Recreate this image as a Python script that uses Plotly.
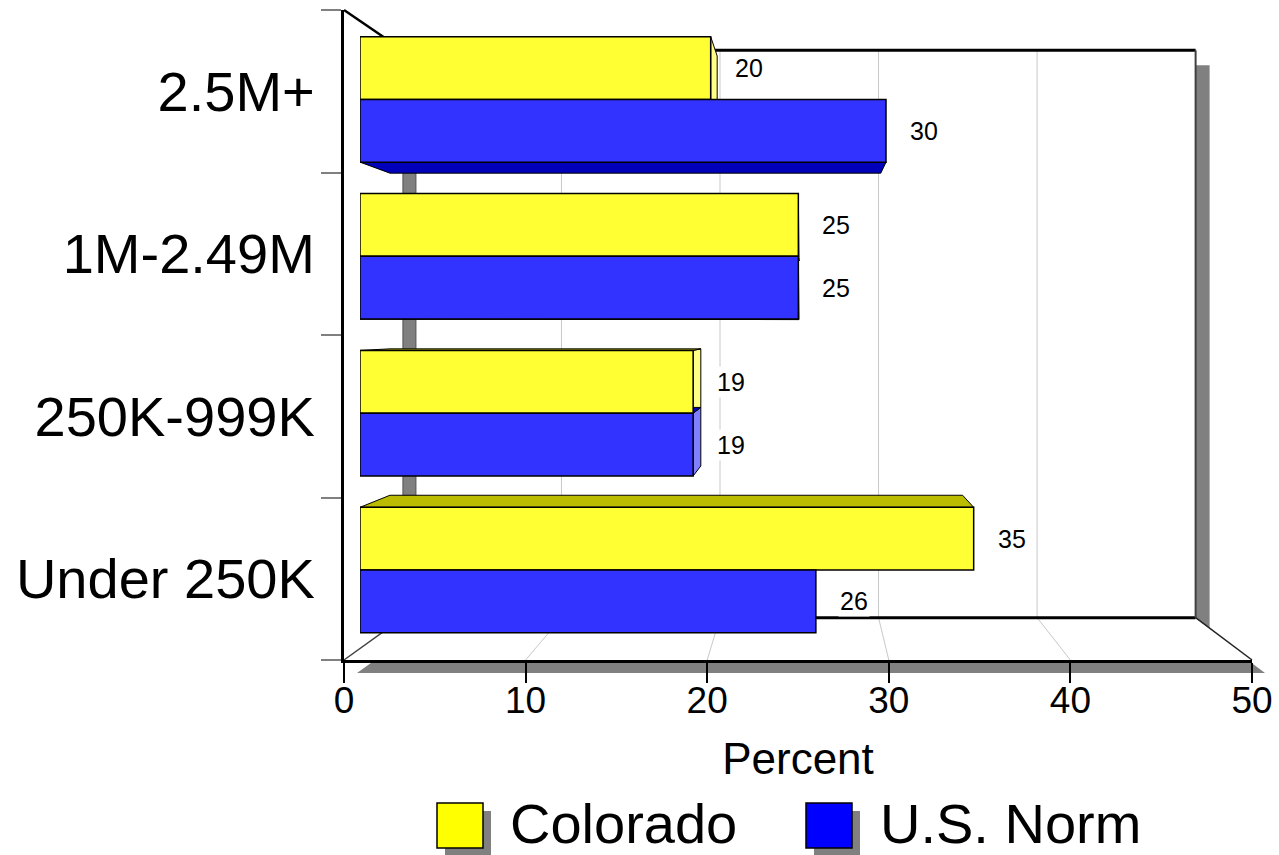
import plotly.graph_objects as go

# ---- data -------------------------------------------------------------
categories = ["Under 250K", "250K-999K", "1M-2.49M", "2.5M+"]   # bottom to top
colorado = [35, 19, 25, 20]
us_norm = [26, 19, 25, 30]
x_ticks = [0, 10, 20, 30, 40, 50]

# ---- geometry of the 3-D box (pixels) ---------------------------------
W, H = 1279, 855
FX0, FX1 = 344, 1252          # front edge: value 0 and value 50
FY_TOP, FY_BOT = 10, 660      # front edge of the category axis
XMAX = 50
NC = len(categories)
C_LO, C_HI = -0.5, NC - 0.5
SX = (FX1 - FX0) / XMAX
SY = (FY_BOT - FY_TOP) / (C_HI - C_LO)


def px_to_v(px):
    return (px - FX0) / SX


def py_to_c(py):
    return C_LO + (FY_BOT - py) / SY


VP_V, VP_C = px_to_v(808), py_to_c(327)   # vanishing point
K_WALL, K_BAR_F, K_BAR_B = 0.873, 0.9655, 0.901


def proj(v, c, k):
    """Point at depth k, expressed in front-plane coordinates."""
    return VP_V + (v - VP_V) * k, VP_C + (c - VP_C) * k


def paper_x(v):
    return (FX0 + v * SX) / W


def paper_y(c):
    return 1 - (FY_BOT - (c - C_LO) * SY) / H


FONT = "Liberation Sans, Arial, sans-serif"
GRAY = "#808080"
GRID = "#c8c8c8"

fig = go.Figure()


def poly(pts, fill, line="black", lw=1.0):
    xs = [p[0] for p in pts] + [pts[0][0]]
    ys = [p[1] for p in pts] + [pts[0][1]]
    fig.add_trace(go.Scatter(x=xs, y=ys, mode="lines", fill="toself",
                             fillcolor=fill, line=dict(color=line, width=lw),
                             xaxis="x", yaxis="y", hoverinfo="skip",
                             showlegend=False))


def seg(p, q, color, lw):
    fig.add_trace(go.Scatter(x=[p[0], q[0]], y=[p[1], q[1]], mode="lines",
                             line=dict(color=color, width=lw),
                             xaxis="x", yaxis="y", hoverinfo="skip",
                             showlegend=False))


def shifted(pts, dxp, dyp):
    return [(x + dxp / SX, y - dyp / SY) for x, y in pts]


# box corners
wall = [proj(0, C_LO, K_WALL), proj(XMAX, C_LO, K_WALL),
        proj(XMAX, C_HI, K_WALL), proj(0, C_HI, K_WALL)]
floor = [(0, C_LO), (XMAX, C_LO), proj(XMAX, C_LO, K_WALL), proj(0, C_LO, K_WALL)]
side = [(0, C_LO), (0, C_HI), proj(0, C_HI, K_WALL), proj(0, C_LO, K_WALL)]

# drop shadows
poly(shifted(wall, 14, 15), GRAY, GRAY, 0)
poly(shifted(floor, 13, 13), GRAY, GRAY, 0)

# back wall, floor and side wall
poly(wall, "white", "white", 0)
poly(floor, "white", "white", 0)
poly(side, "white", "white", 0)

for v in x_ticks[1:-1]:
    seg(proj(v, C_LO, K_WALL), proj(v, C_HI, K_WALL), GRID, 1)
    seg((v, C_LO), proj(v, C_LO, K_WALL), GRID, 1)

# grey edge strip where the back wall meets the side wall
sw = 13 / (SX * K_WALL)
strip = [proj(0, C_LO, K_WALL), proj(sw, C_LO, K_WALL),
         proj(sw, C_HI, K_WALL), proj(0, C_HI, K_WALL)]
poly(strip, GRAY, "#505050", 1)

seg(proj(0, C_HI, K_WALL), proj(XMAX, C_HI, K_WALL), "black", 3)
seg(proj(0, C_LO, K_WALL), proj(XMAX, C_LO, K_WALL), "black", 3)
seg(proj(XMAX, C_LO, K_WALL), proj(XMAX, C_HI, K_WALL), "#404040", 2)
seg((0, C_HI), proj(0, C_HI, K_WALL), "black", 2.5)
seg((0, C_LO), proj(0, C_LO, K_WALL), "#404040", 1.5)
seg((XMAX, C_LO), proj(XMAX, C_LO, K_WALL), "#202020", 1.5)

# depth faces of the bars
BAR_W = 0.4
series = [
    ("Colorado", colorado, 0.0, "#FFFF33", "#BBBB00", "#FFFF88", "#FFFF00"),
    ("U.S. Norm", us_norm, -BAR_W, "#3333FF", "#0000BB", "#8080FF", "#0000FF"),
]
for name, vals, off, front, dark, light, _ in series:
    for ci, v in enumerate(vals):
        y0, y1 = ci + off, ci + off + BAR_W
        if v < VP_V:
            poly([proj(v, y0, K_BAR_F), proj(v, y1, K_BAR_F),
                  proj(v, y1, K_BAR_B), proj(v, y0, K_BAR_B)], light)
        if y1 < VP_C:
            poly([proj(0, y1, K_BAR_F), proj(v, y1, K_BAR_F),
                  proj(v, y1, K_BAR_B), proj(0, y1, K_BAR_B)], dark)
        if y0 > VP_C:
            poly([proj(0, y0, K_BAR_F), proj(v, y0, K_BAR_F),
                  proj(v, y0, K_BAR_B), proj(0, y0, K_BAR_B)], dark)

# front faces of the bars
for name, vals, off, front, dark, light, _ in series:
    fig.add_trace(go.Bar(
        x=vals, y=list(range(NC)), orientation="h", name=name,
        width=BAR_W, offset=off, base=0,
        marker=dict(color=front, line=dict(color="black", width=1.5)),
        xaxis="x2", yaxis="y2", hoverinfo="skip", showlegend=False))

# invisible anchor trace so the front axes get drawn
fig.add_trace(go.Scatter(x=[0], y=[0], mode="markers", marker=dict(opacity=0),
                         xaxis="x3", yaxis="y3", hoverinfo="skip", showlegend=False))

annotations = []
for name, vals, off, *_ in series:
    for ci, v in enumerate(vals):
        annotations.append(dict(
            x=v, y=ci + off + BAR_W / 2, xref="x2", yref="y2",
            text=str(v), showarrow=False, xanchor="left", yanchor="middle",
            xshift=22, bgcolor="white", font=dict(family=FONT, size=25, color="black")))

# legend
shapes = []
legend_items = [("Colorado", "#FFFF00", 437, 508), ("U.S. Norm", "#0000FF", 806, 878)]
for text, col, bx, tx in legend_items:
    shapes.append(dict(type="rect", xref="paper", yref="paper",
                       x0=(bx + 8) / W, x1=(bx + 54) / W,
                       y0=1 - 855 / H, y1=1 - 811 / H,
                       fillcolor=GRAY, line=dict(width=0), layer="above"))
    shapes.append(dict(type="rect", xref="paper", yref="paper",
                       x0=bx / W, x1=(bx + 46) / W,
                       y0=1 - 848 / H, y1=1 - 803 / H,
                       fillcolor=col, line=dict(color="black", width=1.5), layer="above"))
    annotations.append(dict(x=tx / W, y=1 - 823 / H, xref="paper", yref="paper",
                            text=text, showarrow=False, xanchor="left", yanchor="middle",
                            font=dict(family=FONT, size=56, color="black")))

bx0, by0 = proj(0, C_LO, K_BAR_F)
bx1, by1 = proj(XMAX, C_HI, K_BAR_F)

fig.update_layout(
    width=W, height=H, margin=dict(l=0, r=0, t=0, b=0),
    paper_bgcolor="white", plot_bgcolor="rgba(0,0,0,0)",
    showlegend=False, shapes=shapes, annotations=annotations,
    barmode="overlay",
    xaxis=dict(domain=[0, 1], range=[px_to_v(0), px_to_v(W)], visible=False),
    yaxis=dict(domain=[0, 1], range=[py_to_c(H), py_to_c(0)], visible=False),
    xaxis2=dict(domain=[paper_x(bx0), paper_x(bx1)], range=[0, XMAX],
                anchor="y2", visible=False),
    yaxis2=dict(domain=[paper_y(by0), paper_y(by1)], range=[C_LO, C_HI],
                anchor="x2", visible=False),
    xaxis3=dict(domain=[FX0 / W, FX1 / W], range=[0, XMAX], anchor="y3",
                automargin=False,
                tickmode="array", tickvals=x_ticks, ticks="outside", ticklen=20,
                tickcolor="black", tickwidth=1.5, showline=True, linecolor="black",
                linewidth=3, showgrid=False, zeroline=False,
                ticklabelstandoff=-14,
                tickfont=dict(family=FONT, size=37, color="black"),
                title=dict(text="Percent", font=dict(family=FONT, size=44, color="black"),
                           standoff=23)),
    yaxis3=dict(domain=[1 - FY_BOT / H, 1 - FY_TOP / H], range=[C_LO, C_HI],
                anchor="x3", automargin=False,
                tickmode="array", tickvals=list(range(NC)),
                ticktext=categories, ticks="", showline=True, linecolor="black",
                linewidth=3, showgrid=False, zeroline=False,
                tickfont=dict(family=FONT, size=56, color="black"),
                ticklabelstandoff=15,
                minor=dict(tickmode="array",
                           tickvals=[C_LO + i for i in range(NC + 1)],
                           ticks="outside", ticklen=20, tickcolor=GRAY, tickwidth=2)),
)

fig.write_html("out.html")
